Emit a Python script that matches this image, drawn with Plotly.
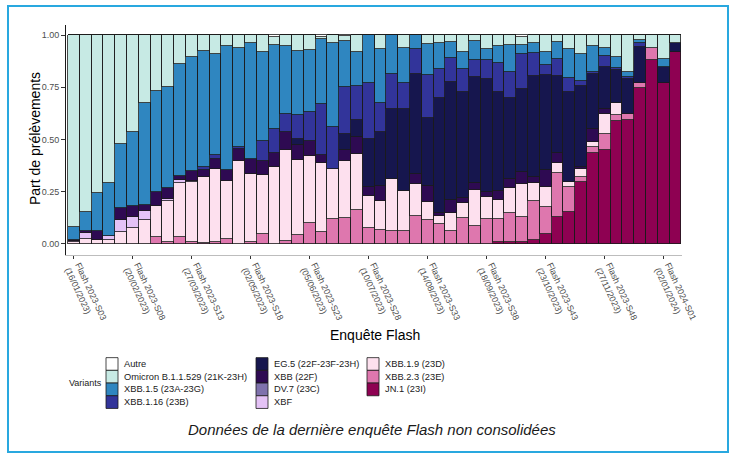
import plotly.graph_objects as go

# ---------------- data ----------------
weeks = [
    "2023-S03", "2023-S04", "2023-S05", "2023-S06", "2023-S07", "2023-S08", "2023-S09", "2023-S10",
    "2023-S11", "2023-S12", "2023-S13", "2023-S14", "2023-S15", "2023-S16", "2023-S17", "2023-S18",
    "2023-S19", "2023-S20", "2023-S21", "2023-S22", "2023-S23", "2023-S24", "2023-S25", "2023-S26",
    "2023-S27", "2023-S28", "2023-S29", "2023-S30", "2023-S31", "2023-S32", "2023-S33", "2023-S34",
    "2023-S35", "2023-S36", "2023-S37", "2023-S38", "2023-S39", "2023-S40", "2023-S41", "2023-S42",
    "2023-S43", "2023-S44", "2023-S45", "2023-S46", "2023-S47", "2023-S48", "2023-S49", "2023-S50",
    "2023-S51", "2023-S52", "2024-S01", "2024-S02",
]

tick_weeks = ["2023-S03", "2023-S08", "2023-S13", "2023-S18", "2023-S23", "2023-S28",
              "2023-S33", "2023-S38", "2023-S43", "2023-S48", "2024-S01"]
tick_dates = ["16/01/2023", "20/02/2023", "27/03/2023", "02/05/2023", "05/06/2023", "10/07/2023",
              "14/08/2023", "18/09/2023", "23/10/2023", "27/11/2023", "02/01/2024"]

autre = [0, 0, 0, 0, 0, 0, 0, 0, 0, 0,
         0, 0, 0, 0, 0, 0, 0, 0.011, 0, 0,
         0, 0.008, 0, 0.005, 0, 0, 0, 0, 0, 0,
         0, 0, 0, 0, 0, 0, 0, 0, 0.011, 0,
         0, 0, 0, 0, 0, 0, 0, 0, 0, 0,
         0, 0]
omicron = [0.92, 0.845, 0.756, 0.71, 0.523, 0.463, 0.325, 0.268, 0.25, 0.14,
           0.107, 0.075, 0.091, 0.051, 0.064, 0.04, 0.081, 0.037, 0.052, 0.075,
           0.072, 0.012, 0.04, 0.024, 0.083, 0, 0.069, 0, 0.064, 0,
           0.043, 0.04, 0.032, 0.083, 0.029, 0.069, 0.051, 0.048, 0.037, 0.04,
           0.083, 0.032, 0.069, 0.091, 0.051, 0.064, 0.104, 0.175, 0.024, 0.064,
           0.116, 0.04]
xbb15 = [0.06, 0.093, 0.183, 0.25, 0.306, 0.355, 0.49, 0.485, 0.482, 0.535,
         0.545, 0.558, 0.485, 0.597, 0.473, 0.555, 0.428, 0.403, 0.327, 0.309,
         0.295, 0.312, 0.402, 0.221, 0.161, 0.231, 0.258, 0.188, 0.164, 0.069,
         0.148, 0.124, 0.08, 0.081, 0.091, 0.051, 0.085, 0.127, 0.043, 0.045,
         0.061, 0.084, 0.138, 0.129, 0.124, 0.035, 0.052, 0.024, 0.016, 0,
         0.036, 0]
xbb116 = [0, 0, 0, 0, 0, 0, 0, 0, 0, 0,
          0, 0.013, 0.016, 0, 0.01, 0, 0.095, 0.115, 0.085, 0.115,
          0.142, 0.244, 0.201, 0.225, 0.164, 0.268, 0.139, 0.168, 0.128, 0.118,
          0.208, 0.136, 0.114, 0.107, 0.083, 0.092, 0.138, 0.128, 0.169, 0.111,
          0.047, 0.08, 0.067, 0.024, 0.012, 0.053, 0.011, 0.01, 0.016, 0,
          0, 0]
eg5 = [0, 0, 0, 0, 0, 0, 0, 0, 0, 0,
       0, 0, 0, 0, 0, 0, 0, 0, 0, 0.027,
       0, 0, 0, 0.077, 0.082, 0.23, 0.256, 0.335, 0.389, 0.476,
       0.323, 0.55, 0.563, 0.507, 0.504, 0.541, 0.471, 0.386, 0.394, 0.482,
       0.455, 0.37, 0.431, 0.386, 0.264, 0.204, 0.157, 0.171, 0.172, 0,
       0.079, 0.043]
xbb = [0.007, 0.011, 0.042, 0, 0.058, 0.051, 0.025, 0.067, 0.053, 0.02,
       0.045, 0.035, 0.048, 0.049, 0.054, 0.068, 0.064, 0.067, 0.084, 0.07,
       0.07, 0.038, 0, 0.049, 0.079, 0.041, 0.072, 0, 0, 0.052,
       0.075, 0.016, 0.064, 0.027, 0.035, 0.021, 0.044, 0.045, 0.059, 0.032,
       0.08, 0.048, 0, 0.013, 0.063, 0.022, 0, 0, 0, 0,
       0, 0]
dv7 = [0, 0, 0, 0, 0, 0, 0, 0, 0, 0,
       0, 0, 0, 0, 0, 0, 0, 0, 0, 0,
       0, 0, 0, 0, 0, 0, 0, 0, 0, 0,
       0, 0, 0, 0, 0, 0, 0, 0, 0, 0,
       0, 0, 0, 0, 0, 0, 0, 0, 0, 0,
       0, 0]
xbf = [0.005, 0.027, 0, 0.02, 0.056, 0.053, 0.047, 0, 0.008, 0.012,
       0.005, 0, 0, 0, 0, 0, 0, 0, 0, 0,
       0, 0, 0, 0, 0, 0, 0, 0, 0, 0,
       0, 0, 0, 0, 0, 0, 0, 0, 0, 0,
       0, 0, 0, 0, 0, 0, 0, 0, 0, 0,
       0, 0]
xbb19 = [0.008, 0.024, 0.019, 0.02, 0.057, 0.078, 0.113, 0.148, 0.197, 0.26,
         0.29, 0.313, 0.35, 0.277, 0.399, 0.327, 0.286, 0.367, 0.44, 0.359,
         0.322, 0.33, 0.239, 0.276, 0.27, 0.153, 0.139, 0.248, 0.191, 0.151,
         0.09, 0.04, 0.085, 0.072, 0.17, 0.108, 0.093, 0.119, 0.156, 0.083,
         0.095, 0.048, 0.024, 0.036, 0.023, 0.097, 0.059, 0, 0, 0,
         0, 0]
xbb23 = [0, 0, 0, 0, 0, 0, 0, 0.032, 0.01, 0.033,
         0.008, 0.006, 0.01, 0.026, 0, 0.01, 0.046, 0, 0.012, 0.045,
         0.099, 0.056, 0.118, 0.123, 0.161, 0.077, 0.067, 0.061, 0.064, 0.134,
         0.113, 0.094, 0.062, 0.123, 0.088, 0.118, 0.108, 0.137, 0.121, 0.188,
         0.131, 0.21, 0.116, 0.026, 0.026, 0.077, 0.027, 0.027, 0.027, 0.056,
         0, 0]
jn1 = [0, 0, 0, 0, 0, 0, 0, 0, 0, 0,
       0, 0, 0, 0, 0, 0, 0, 0, 0, 0,
       0, 0, 0, 0, 0, 0, 0, 0, 0, 0,
       0, 0, 0, 0, 0, 0, 0.01, 0.01, 0.01, 0.019,
       0.048, 0.128, 0.155, 0.295, 0.437, 0.448, 0.59, 0.593, 0.745, 0.88,
       0.769, 0.917]

variant_names = ["Autre", "Omicron B.1.1.529 (21K-23H)", "XBB.1.5 (23A-23G)", "XBB.1.16 (23B)",
                 "EG.5 (22F-23F-23H)", "XBB (22F)", "DV.7 (23C)", "XBF",
                 "XBB.1.9 (23D)", "XBB.2.3 (23E)", "JN.1 (23I)"]
variant_values = [autre, omicron, xbb15, xbb116, eg5, xbb, dv7, xbf, xbb19, xbb23, jn1]
variant_colors = ["#FFFFFF", "#C7EAE4", "#2F86C0", "#32349A", "#16164E", "#2E0A52",
                  "#7F72AD", "#E4C2F6", "#FDE0EE", "#DE77AE", "#8E0152"]

# ---------------- layout geometry (pixels) ----------------
W, H = 739, 455
PL, PR, PT, PB = 66, 682, 25, 255


def px(x):
    return (x - PL) / (PR - PL)


def py(y):
    return (PB - y) / (PB - PT)


FONT = "Liberation Sans, Arial, Helvetica, sans-serif"

fig = go.Figure()
# ggplot stacks the first level on top: draw from last to first
for name, vals, col in reversed(list(zip(variant_names, variant_values, variant_colors))):
    fig.add_trace(go.Bar(
        x=weeks, y=vals, name=name, showlegend=False,
        marker=dict(color=col, line=dict(color="#1A1A1A", width=0.8)),
    ))

ticktext = ["Flash %s<br>(%s)" % (w, d) for w, d in zip(tick_weeks, tick_dates)]

fig.update_layout(
    width=W, height=H, autosize=False,
    margin=dict(l=PL, r=W - PR, t=PT, b=H - PB, pad=0),
    barmode="stack", bargap=0,
    paper_bgcolor="white", plot_bgcolor="white",
    font=dict(family=FONT, color="#1A1A1A"),
    xaxis=dict(
        type="category", range=[-0.67, 51.56],
        tickmode="array", tickvals=tick_weeks, ticktext=ticktext,
        tickangle=65, ticks="outside", ticklen=3, tickcolor="#333333", tickwidth=1,
        tickfont=dict(size=8.8, color="#4D4D4D", family=FONT),
        showline=True, linecolor="#BDBDBD", linewidth=1,
        showgrid=False, zeroline=False, automargin=False,
    ),
    yaxis=dict(
        range=[-0.053, 1.048],
        tickmode="array", tickvals=[0, 0.25, 0.5, 0.75, 1.0],
        ticktext=["0.00", "0.25", "0.50", "0.75", "1.00"],
        ticks="outside", ticklen=4, tickcolor="#333333", tickwidth=1,
        tickfont=dict(size=9, color="#4D4D4D", family=FONT),
        showline=True, linecolor="#1A1A1A", linewidth=1,
        showgrid=False, zeroline=False, automargin=False,
    ),
)

shapes = []
annotations = []

# outer blue frame
shapes.append(dict(type="rect", xref="paper", yref="paper",
                   x0=px(8), x1=px(728), y0=py(452), y1=py(6),
                   line=dict(color="#29A8DF", width=2), fillcolor="rgba(0,0,0,0)", layer="below"))

# axis titles
annotations.append(dict(text="Enquête Flash", xref="paper", yref="paper",
                        x=px(375), y=py(335), xanchor="center", yanchor="middle",
                        showarrow=False, font=dict(size=14, color="#000000", family=FONT)))
annotations.append(dict(text="Part de prélèvements", xref="paper", yref="paper",
                        x=px(35), y=py(139), xanchor="center", yanchor="middle", textangle=-90,
                        showarrow=False, font=dict(size=14, color="#000000", family=FONT)))

# legend (three columns, like the ggplot guide)
annotations.append(dict(text="Variants", xref="paper", yref="paper",
                        x=px(67), y=py(383), xanchor="left", yanchor="middle",
                        showarrow=False, font=dict(size=9, color="#1A1A1A", family=FONT)))
col_x = [106, 256, 367]
row_y = [364, 376.7, 389.4, 402.1]
RH = 12.7
columns = [[0, 1, 2, 3], [4, 5, 6, 7], [8, 9, 10]]
for cx, idxs in zip(col_x, columns):
    for ry, k in zip(row_y, idxs):
        shapes.append(dict(type="rect", xref="paper", yref="paper",
                           x0=px(cx), x1=px(cx + 12), y0=py(ry + RH / 2), y1=py(ry - RH / 2),
                           fillcolor=variant_colors[k], line=dict(color="#1A1A1A", width=0.8)))
        annotations.append(dict(text=variant_names[k], xref="paper", yref="paper",
                                x=px(cx + 16), y=py(ry), xanchor="left", yanchor="middle",
                                showarrow=False, font=dict(size=9.3, color="#1A1A1A", family=FONT)))

# caption
annotations.append(dict(text="<i>Données de la dernière enquête Flash non consolidées</i>",
                        xref="paper", yref="paper", x=px(372), y=py(429),
                        xanchor="center", yanchor="middle", showarrow=False,
                        font=dict(size=15, color="#1A1A1A", family=FONT)))

fig.update_layout(shapes=shapes, annotations=annotations)
fig.write_html("out.html", config={"displayModeBar": False},
               post_script="document.body.style.margin='0px';")
